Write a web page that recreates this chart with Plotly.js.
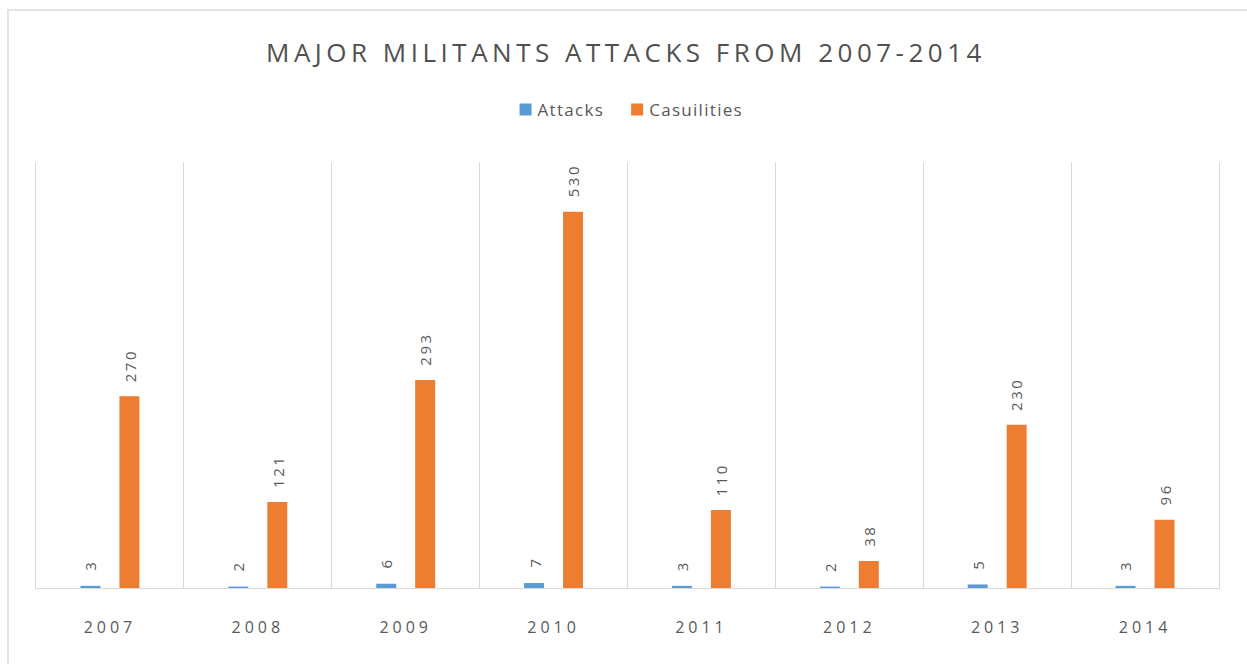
<!DOCTYPE html>
<html>
<head>
<meta charset="utf-8">
<script src="https://cdn.plot.ly/plotly-3.0.1.min.js"></script>
<style>
  html, body { margin: 0; padding: 0; background: #ffffff; }
  #wrap { position: relative; width: 1247px; height: 664px; overflow: hidden; }
  #chart { position: absolute; left: 0; top: 0; width: 1247px; height: 664px; }
  #frameTop { position: absolute; left: 7px; top: 9px; width: 1240px; height: 0; border-top: 2px solid #e3e3e3; pointer-events: none; }
  #frameLeft { position: absolute; left: 7px; top: 9px; width: 0; height: 655px; border-left: 2px solid #e3e3e3; pointer-events: none; }
  .gtitle { letter-spacing: 4.5px; }
  .xtick text { letter-spacing: 4px; }
  .annotation-text { letter-spacing: 2.5px; }
  .legendtext { letter-spacing: 1.3px; transform: translateX(-8px); }
</style>
</head>
<body>
<div id="wrap">
  <div id="chart"></div>
  <div id="frameTop"></div>
  <div id="frameLeft"></div>
</div>
<script>
const years = ["2007", "2008", "2009", "2010", "2011", "2012", "2013", "2014"];
const attacks = [3, 2, 6, 7, 3, 2, 5, 3];
const casualties = [270, 121, 293, 530, 110, 38, 230, 96];
const seriesNames = ["Attacks", "Casuilities"];
const chartTitle = "MAJOR MILITANTS ATTACKS FROM 2007-2014";

const blue = "#5B9BD5";
const orange = "#ED7D31";
const grey = "#595959";
const labelFont = { family: "Open Sans, sans-serif", size: 15, color: grey };

const traces = [
  { type: "bar", name: seriesNames[0], x: years, y: attacks, marker: { color: blue }, hoverinfo: "x+y+name" },
  { type: "bar", name: seriesNames[1], x: years, y: casualties, marker: { color: orange }, hoverinfo: "x+y+name" }
];

const annotations = [];
years.forEach((yr, i) => {
  annotations.push({ xref: "x", yref: "y", x: i, y: attacks[i], text: String(attacks[i]), textangle: -90,
    showarrow: false, xanchor: "center", yanchor: "bottom", xshift: -19.5, yshift: 13, font: labelFont });
  annotations.push({ xref: "x", yref: "y", x: i, y: casualties[i], text: String(casualties[i]), textangle: -90,
    showarrow: false, xanchor: "center", yanchor: "bottom", xshift: 19.5, yshift: 12, font: labelFont });
});

const layout = {
  width: 1247, height: 664,
  margin: { l: 36, r: 28, t: 162, b: 76, pad: 0 },
  paper_bgcolor: "rgba(0,0,0,0)",
  plot_bgcolor: "#ffffff",
  title: { text: chartTitle, x: 0.502, xref: "container", y: 0.921, yref: "container", xanchor: "center", yanchor: "middle",
    font: { family: "Open Sans, sans-serif", size: 26, color: "#505050" } },
  showlegend: true,
  legend: { orientation: "h", x: 0.503, xanchor: "center", y: 1 - 110 / 664, yref: "container", yanchor: "middle",
    font: { family: "Open Sans, sans-serif", size: 17, color: grey }, itemwidth: 30, traceorder: "normal",
    bgcolor: "rgba(0,0,0,0)" },
  barmode: "group",
  bargap: 0.473,
  bargroupgap: 0.487,
  xaxis: {
    type: "category",
    range: [-0.5, years.length - 0.5],
    autorange: false,
    tickson: "boundaries",
    showgrid: true, gridcolor: "#d9d9d9", gridwidth: 1,
    showline: true, linecolor: "#d9d9d9", linewidth: 1,
    ticks: "", ticklen: 0,
    tickangle: 0,
    tickfont: { family: "Open Sans, sans-serif", size: 16, color: grey },
    ticklabelstandoff: 25,
    fixedrange: true
  },
  yaxis: {
    range: [0, 600], autorange: false,
    showgrid: false, zeroline: false, showticklabels: false, ticks: "",
    showline: true, mirror: true, linecolor: "#d9d9d9", linewidth: 1,
    fixedrange: true
  },
  annotations: annotations
};

Plotly.newPlot("chart", traces, layout, { displayModeBar: false, staticPlot: true });
</script>
</body>
</html>
